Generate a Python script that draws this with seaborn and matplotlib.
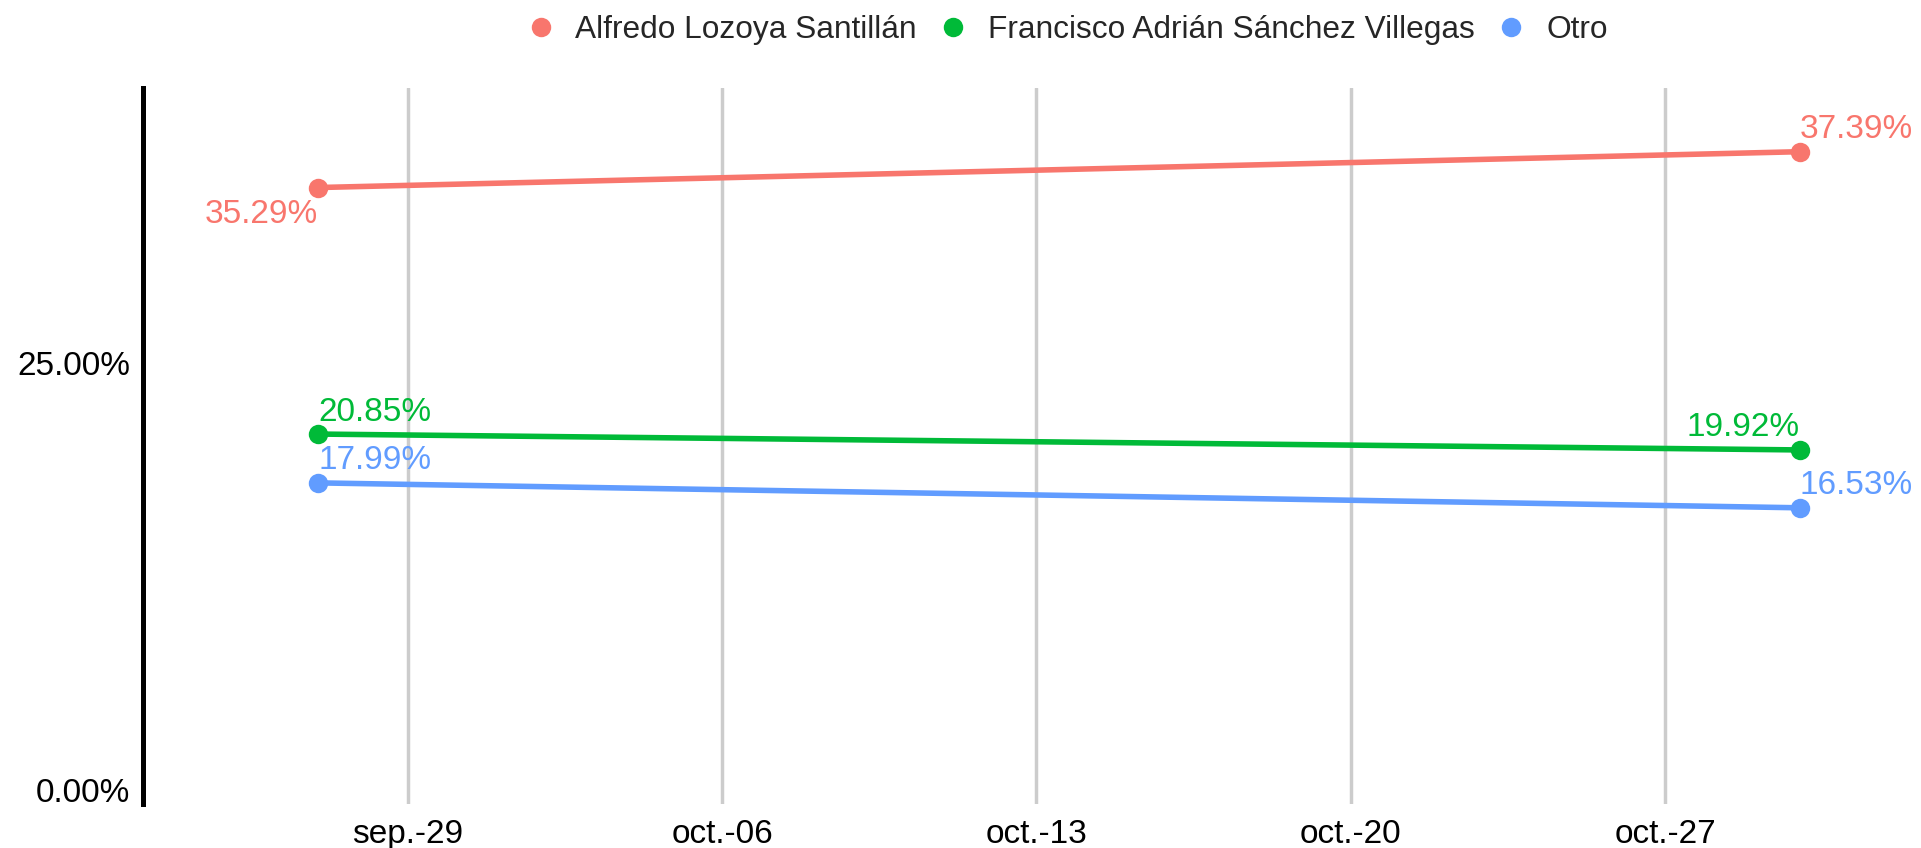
import pandas as pd
import seaborn as sns
import matplotlib.pyplot as plt
from matplotlib.lines import Line2D
from matplotlib.ticker import FuncFormatter

# datos de la encuesta
fechas = ["2024-09-27", "2024-10-30"]
candidatos = ["Alfredo Lozoya Santillán", "Francisco Adrián Sánchez Villegas", "Otro"]
alfredo = [35.29, 37.39]
francisco = [20.85, 19.92]
otro = [17.99, 16.53]
colores = ["#F8766D", "#00BA38", "#619CFF"]

semanas = ["2024-09-29", "2024-10-06", "2024-10-13", "2024-10-20", "2024-10-27"]
etiquetas_semana = ["sep.-29", "oct.-06", "oct.-13", "oct.-20", "oct.-27"]
marcas_y = [0, 25]

# donde va cada etiqueta: (lado, arriba/abajo) por candidato y fecha
posiciones = [
    [("right", -1), ("left", 1)],
    [("left", 1), ("right", 1)],
    [("left", 1), ("left", 1)],
]

# armar el dataframe largo
filas = []
for nombre, valores in zip(candidatos, [alfredo, francisco, otro]):
    for f, v in zip(fechas, valores):
        filas.append({"fecha": pd.Timestamp(f), "candidato": nombre, "pct": v})
df = pd.DataFrame(filas)

sns.set_theme(style="white")
plt.rcParams["font.family"] = ["Liberation Sans", "DejaVu Sans"]

fig = plt.figure(figsize=(19.21, 8.48), dpi=100)
ax = fig.add_axes([0.0744, 0.0519, 0.920, 0.8443])

sns.lineplot(ax=ax, data=df, x="fecha", y="pct", hue="candidato",
             hue_order=candidatos, palette=colores, marker="o",
             markersize=14, markeredgewidth=0, linewidth=4, legend=False)

# etiquetas de porcentaje en cada punto
for i, nombre in enumerate(candidatos):
    sub = df[df["candidato"] == nombre].reset_index(drop=True)
    for j in range(len(sub)):
        lado, arriba = posiciones[i][j]
        desplaza = 22 if arriba > 0 else -27
        ax.annotate(f"{sub.loc[j, 'pct']:.2f}%",
                    xy=(sub.loc[j, "fecha"], sub.loc[j, "pct"]),
                    xytext=(0, desplaza), textcoords="offset pixels",
                    ha=lado, va="center", fontsize=24, color=colores[i])

ax.set_xlim(pd.Timestamp("2024-09-23 02:24"), pd.Timestamp("2024-11-01 11:00"))
ax.set_ylim(-0.82, 41.12)

ax.set_xticks([pd.Timestamp(s) for s in semanas])
ax.set_xticklabels(etiquetas_semana)
ax.set_yticks(marcas_y)
ax.yaxis.set_major_formatter(FuncFormatter(lambda v, p: f"{v:.2f}%"))

ax.xaxis.grid(True, color="#CCCCCC", linewidth=2.5)
ax.yaxis.grid(False)
ax.set_xlabel("")
ax.set_ylabel("")

for lado in ["top", "right", "bottom"]:
    ax.spines[lado].set_visible(False)
ax.spines["left"].set_color("black")
ax.spines["left"].set_linewidth(3.6)

ax.tick_params(axis="both", length=0, labelsize=24, colors="black")
ax.tick_params(axis="y", pad=9)
ax.tick_params(axis="x", pad=11)

# leyenda arriba, solo puntos
handles = [Line2D([], [], marker="o", linestyle="", markersize=14,
                  markeredgewidth=0, color=c) for c in colores]
fig.legend(handles, candidatos, loc="center", bbox_to_anchor=(0.555, 0.965),
           ncol=3, frameon=False, fontsize=22.8, handlelength=1,
           handletextpad=0.6, columnspacing=0.65)

plt.savefig("out.png", dpi=100)
